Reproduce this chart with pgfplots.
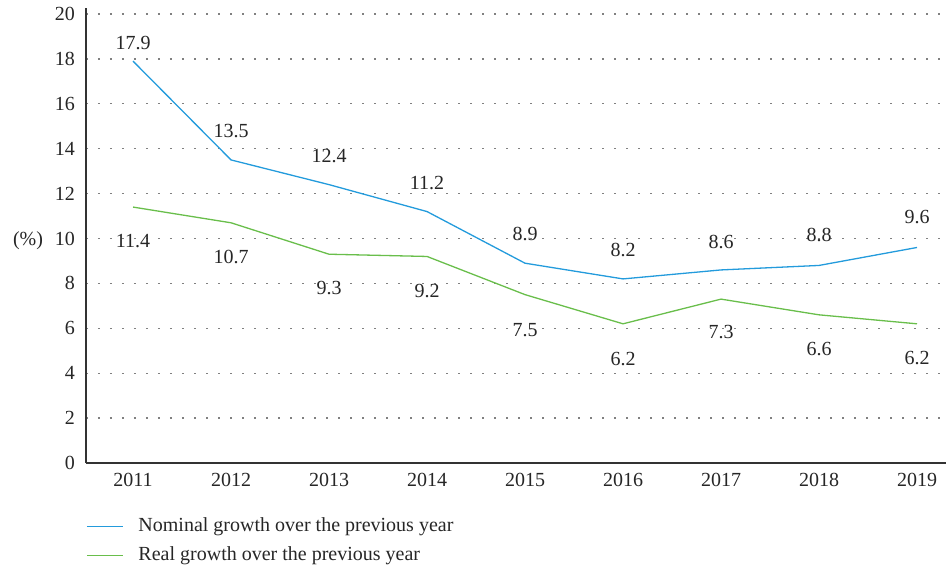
\documentclass[border=0pt]{standalone}
\usepackage{pgfplots}
\pgfplotsset{compat=1.18}
\usepackage{fontspec}
\setmainfont{Liberation Serif}
\definecolor{nomblue}{RGB}{35,155,220}
\definecolor{realgreen}{RGB}{105,190,75}
\begin{document}
\begin{tikzpicture}[font=\fontsize{20bp}{24bp}\selectfont]
\useasboundingbox (-86bp,-106bp) rectangle (861bp,463bp);
\begin{axis}[
  at={(0,0)}, anchor=south west,
  scale only axis,
  width=860bp, height=454.6bp,
  xmin=-0.48, xmax=8.296,
  ymin=0, ymax=20.25,
  axis x line=bottom, axis y line=left,
  axis line style={-, line width=1.4bp, black!80},
  xtick={0,...,8},
  xticklabels={2011,2012,2013,2014,2015,2016,2017,2018,2019},
  ytick={0,2,...,20},
  major tick length=0pt,
  tick label style={inner sep=0pt, text=black!85},
  yticklabel style={xshift=-11bp},
  xticklabel style={yshift=-10bp},
  ymajorgrids,
  grid style={dash pattern=on 1.6bp off 10.4bp, line width=1.3bp, black!50},
  /pgf/number format/assume math mode=true,
  clip=false,
  legend style={draw=none, fill=none, at={(axis description cs:0,0)}, anchor=north west,
    yshift=-55bp, xshift=0bp, inner sep=0pt, row sep=12bp, column sep=0bp,
    nodes={inner sep=0pt, text height=13bp, text depth=4bp}},
  legend cell align=left,
  legend image code/.code={\draw[#1, line width=1.3bp] (0bp,0bp) -- (36bp,0bp);},
  nodes near coords={\pgfmathprintnumber[fixed,fixed zerofill,precision=1,assume math mode=true]{\pgfplotspointmeta}},
  every node near coord/.append style={text=black!85, inner sep=0pt},
]
\addplot[nomblue, line width=1.3bp, nodes near coords,
  visualization depends on={\thisrow{dy}\as\dy},
  every node near coord/.append style={anchor=center, yshift=\dy bp}]
  table {
x y dy
0 17.9 18
1 13.5 29
2 12.4 29
3 11.2 29
4 8.9 29
5 8.2 29
6 8.6 28
7 8.8 30
8 9.6 30
};
\addlegendentry{\hspace{15bp}\textcolor{black!85}{Nominal growth over the previous year}}
\addplot[realgreen, line width=1.3bp, nodes near coords,
  visualization depends on={\thisrow{dy}\as\dy},
  every node near coord/.append style={anchor=center, yshift=\dy bp}]
  table {
x y dy
0 11.4 -34
1 10.7 -34
2 9.3 -34
3 9.2 -35
4 7.5 -35
5 6.2 -35
6 7.3 -33
7 6.6 -34
8 6.2 -34
};
\addlegendentry{\hspace{15bp}\textcolor{black!85}{Real growth over the previous year}}
\node[text=black!85] at (rel axis cs:0,0.49) [xshift=-58bp] {(\%)};
\end{axis}
\end{tikzpicture}
\end{document}
